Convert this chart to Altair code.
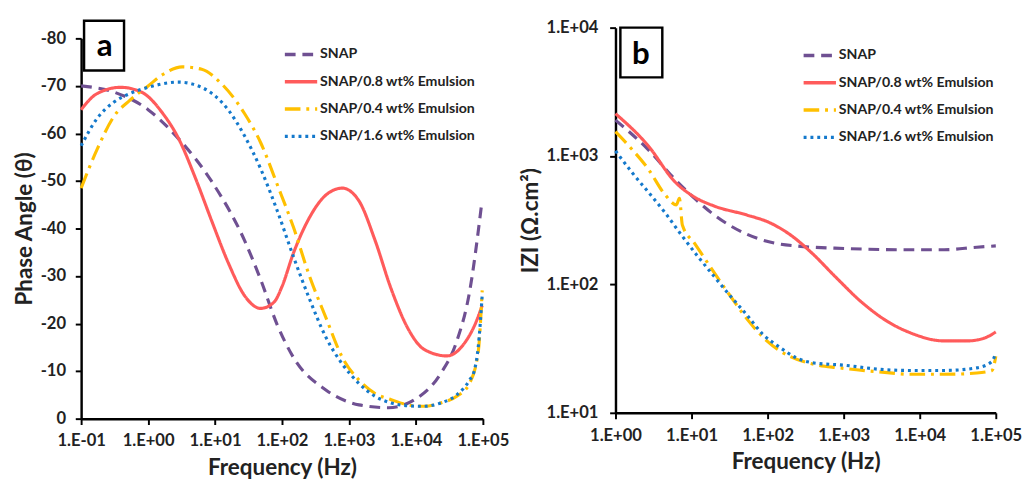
import altair as alt
import pandas as pd
import numpy as np

series = ["SNAP", "SNAP/0.8 wt% Emulsion", "SNAP/0.4 wt% Emulsion", "SNAP/1.6 wt% Emulsion"]
colors = ["#6F5092", "#FF5B5B", "#FFC000", "#1479CC"]
dashes = [[11, 7], [1, 0], [16, 6, 3, 6], [3, 4]]

# ---- Panel a: phase angle vs frequency (log10 Hz) ----
a_snap_logf = [-1.0, -0.51, 0.0, 0.46, 0.95, 1.44, 1.68, 1.93, 2.17, 2.66, 3.15, 3.59, 3.98, 4.37, 4.61, 4.80, 4.98]
a_snap_phase = [-70.0, -68.7, -65.0, -58.8, -49.9, -37.5, -29.3, -19.7, -12.9, -6.0, -2.9, -2.3, -4.0, -9.5, -16.3, -26.6, -45.0]

a_08_logf = [-1.0, -0.76, -0.41, -0.10, 0.22, 0.46, 0.71, 0.95, 1.20, 1.44, 1.68, 1.88, 2.0, 2.17, 2.41, 2.66, 2.90, 3.15, 3.39, 3.63, 3.88, 4.12, 4.46, 4.71, 4.90, 4.99]
a_08_phase = [-65.0, -68.4, -69.7, -68.7, -64.2, -58.8, -50.5, -41.6, -32.7, -25.9, -23.2, -24.5, -27.8, -34.8, -42.3, -47.1, -48.5, -45.8, -37.5, -27.3, -19.0, -14.6, -13.2, -15.6, -20.4, -23.8]

a_04_logf = [-1.0, -0.76, -0.51, -0.27, 0.0, 0.22, 0.51, 0.80, 1.10, 1.44, 1.68, 1.93, 2.17, 2.41, 2.66, 2.90, 3.15, 3.39, 3.63, 3.88, 4.12, 4.37, 4.61, 4.80, 4.93, 4.99]
a_04_phase = [-48.5, -56.7, -63.6, -67.0, -70.0, -72.4, -74.0, -73.5, -70.4, -64.2, -58.1, -49.2, -40.3, -30.0, -21.1, -12.9, -8.1, -5.3, -4.0, -2.9, -2.6, -3.3, -4.7, -7.4, -14.0, -27.0]

a_16_logf = [-1.0, -0.76, -0.51, -0.27, 0.0, 0.46, 0.80, 1.20, 1.44, 1.68, 1.93, 2.17, 2.41, 2.66, 2.90, 3.15, 3.39, 3.63, 3.88, 4.12, 4.37, 4.61, 4.80, 4.87, 4.93, 4.99]
a_16_phase = [-57.4, -63.2, -66.6, -68.4, -69.7, -70.8, -69.7, -64.9, -59.5, -52.6, -43.7, -34.1, -25.2, -17.0, -11.5, -7.4, -4.7, -3.3, -2.7, -2.6, -3.3, -5.0, -8.1, -10.0, -15.0, -26.0]

# ---- Panel b: |Z| vs frequency (log10 Hz, log10 ohm.cm2) ----
b_snap_logf = [0.0, 0.43, 0.78, 1.04, 1.30, 1.73, 2.03, 2.37, 3.02, 3.89, 4.32, 4.75, 5.0]
b_snap_logz = [3.28, 3.05, 2.82, 2.67, 2.54, 2.39, 2.33, 2.30, 2.28, 2.27, 2.27, 2.29, 2.30]

b_08_logf = [0.0, 0.43, 0.78, 1.04, 1.30, 1.73, 2.03, 2.29, 2.59, 2.89, 3.24, 3.58, 3.89, 4.32, 4.62, 4.84, 5.0]
b_08_logz = [3.33, 3.08, 2.80, 2.68, 2.61, 2.54, 2.48, 2.39, 2.24, 2.06, 1.86, 1.71, 1.62, 1.56, 1.56, 1.58, 1.63]

b_04_logf = [0.0, 0.22, 0.43, 0.65, 0.80, 0.84, 0.88, 1.04, 1.30, 1.51, 1.73, 1.99, 2.29, 2.59, 2.94, 3.45, 3.89, 4.32, 4.75, 4.95, 5.0]
b_04_logz = [3.19, 3.05, 2.90, 2.70, 2.62, 2.67, 2.46, 2.32, 2.09, 1.91, 1.73, 1.56, 1.44, 1.38, 1.35, 1.32, 1.30, 1.30, 1.31, 1.33, 1.44]

b_16_logf = [0.0, 0.22, 0.43, 0.65, 0.86, 1.08, 1.30, 1.51, 1.73, 1.94, 2.16, 2.37, 2.59, 3.02, 3.45, 3.89, 4.32, 4.75, 4.95, 5.0]
b_16_logz = [3.04, 2.87, 2.72, 2.56, 2.39, 2.22, 2.06, 1.91, 1.76, 1.61, 1.51, 1.43, 1.39, 1.37, 1.34, 1.33, 1.33, 1.35, 1.40, 1.47]

a_x_ticks = [0.1, 1, 10, 100, 1000, 10000, 100000]
a_x_labels = ["1.E-01", "1.E+00", "1.E+01", "1.E+02", "1.E+03", "1.E+04", "1.E+05"]
a_y_ticks = [0, -10, -20, -30, -40, -50, -60, -70, -80]
b_x_ticks = [1, 10, 100, 1000, 10000, 100000]
b_x_labels = ["1.E+00", "1.E+01", "1.E+02", "1.E+03", "1.E+04", "1.E+05"]
b_y_ticks = [10, 100, 1000, 10000]
b_y_labels = ["1.E+01", "1.E+02", "1.E+03", "1.E+04"]


def label_expr(ticks, labels):
    expr = "''"
    for t, l in reversed(list(zip(ticks, labels))):
        expr = f"datum.value < {t * 1.5} ? '{l}' : ({expr})"
    return expr


def frame(pairs, yname, ylog):
    rows = []
    for name, (lf, yv) in zip(series, pairs):
        for f, v in zip(lf, yv):
            rows.append({"series": name, "freq": 10 ** f, yname: (10 ** v if ylog else v)})
    return pd.DataFrame(rows)


df_a = frame([(a_snap_logf, a_snap_phase), (a_08_logf, a_08_phase),
              (a_04_logf, a_04_phase), (a_16_logf, a_16_phase)], "phase", False)
df_b = frame([(b_snap_logf, b_snap_logz), (b_08_logf, b_08_logz),
              (b_04_logf, b_04_logz), (b_16_logf, b_16_logz)], "z", True)

FONT = "Lato"


def legend(x, y):
    return alt.Legend(title=None, orient="none", legendX=x, legendY=y,
                      symbolType="stroke", symbolSize=1100, symbolStrokeWidth=3.5,
                      labelFont=FONT, labelFontSize=14.5, labelFontWeight="bold",
                      labelColor="#222", rowPadding=2, labelOffset=1,
                      labelLimit=300)


def enc_style(lx, ly):
    return dict(
        color=alt.Color("series:N", sort=series,
                        scale=alt.Scale(domain=series, range=colors), legend=legend(lx, ly)),
        strokeDash=alt.StrokeDash("series:N", sort=series,
                                  scale=alt.Scale(domain=series, range=dashes), legend=legend(lx, ly)),
        detail="series:N",
    )


def panel_box(label, x1, x2, y1, y2, tx, ty):
    d = pd.DataFrame({"label": [label]})
    box = alt.Chart(d).mark_rect(fill="white", stroke="black", strokeWidth=2.5).encode(
        x=alt.value(x1), x2=alt.value(x2), y=alt.value(y1), y2=alt.value(y2))
    txt = alt.Chart(d).mark_text(font=FONT, fontSize=32, fontWeight="bold", color="black",
                                 baseline="middle", align="center").encode(
        x=alt.value(tx), y=alt.value(ty), text="label:N")
    return box + txt


XAXIS = dict(labelPadding=9, titlePadding=8, labelFlush=False, labelOverlap=False)

A_OFF = 11  # panel a plot starts lower than panel b
line_a = alt.Chart(df_a).mark_line(strokeWidth=3.2, interpolate="monotone").encode(
    x=alt.X("freq:Q", scale=alt.Scale(type="log", domain=[0.1, 100000], nice=False),
            axis=alt.Axis(values=a_x_ticks, labelExpr=label_expr(a_x_ticks, a_x_labels),
                          title="Frequency (Hz)", **XAXIS)),
    y=alt.Y("phase:Q", scale=alt.Scale(domain=[0, -80], nice=False, zero=False,
                                       range=[390 + A_OFF, A_OFF]),
            axis=alt.Axis(values=a_y_ticks, labelExpr="'' + datum.value",
                          title="Phase Angle (θ)", labelPadding=10, titlePadding=4)),
    **enc_style(207, A_OFF - 2),
)

panel_a = alt.layer(line_a, panel_box("a", 3, 44, -18 + A_OFF, 33 + A_OFF, 24, 8 + A_OFF)).properties(
    width=412, height=390 + A_OFF)

line_b = alt.Chart(df_b).mark_line(strokeWidth=3.2, interpolate="monotone").encode(
    x=alt.X("freq:Q", scale=alt.Scale(type="log", domain=[1, 100000], nice=False),
            axis=alt.Axis(values=b_x_ticks, labelExpr=label_expr(b_x_ticks, b_x_labels),
                          title="Frequency (Hz)", **XAXIS)),
    y=alt.Y("z:Q", scale=alt.Scale(type="log", domain=[10, 10000], nice=False),
            axis=alt.Axis(values=b_y_ticks, labelExpr=label_expr(b_y_ticks, b_y_labels),
                          title="IZI (Ω.cm²)", labelPadding=12, titlePadding=4)),
    **enc_style(191, 10),
)

panel_b = alt.layer(line_b, panel_box("b", 5, 48, 0, 51, 26, 27)).properties(width=390, height=395)

chart = alt.hconcat(panel_a, panel_b, spacing=10).resolve_scale(
    color="independent", strokeDash="independent", x="independent", y="independent"
).resolve_legend(color="independent", strokeDash="independent").configure(
    background="white"
).configure_axis(
    labelFont=FONT, labelFontWeight="bold", labelFontSize=17, labelColor="#222",
    titleFont=FONT, titleFontWeight="bold", titleFontSize=23, titleColor="#222",
    domainColor="black", domainWidth=2.5, tickColor="black", tickWidth=2, tickSize=6,
    grid=False,
).configure_view(stroke=None)

chart.save("out.html", embed_options={"renderer": "svg", "actions": False})
